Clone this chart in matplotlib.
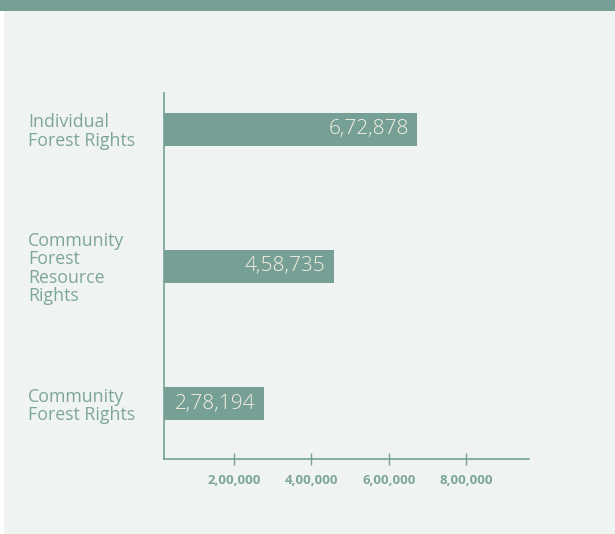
import matplotlib
matplotlib.use("Agg")
import matplotlib.pyplot as plt
from matplotlib.patches import Rectangle

# Forest rights titles distributed, by category (bottom to top)
categories = ["Community\nForest Rights",
              "Community\nForest\nResource\nRights",
              "Individual\nForest Rights"]
titles = [278194, 458735, 672878]
x_ticks = [200000, 400000, 600000, 800000]

TEAL = "#76a096"
LABEL = "#7ea59a"
BG = "#eff4f2"
CREAM = "#f4eedf"


def indian_format(n):
    """Group digits the Indian way: 6,72,878 / 2,00,000."""
    s = str(int(n))
    if len(s) <= 3:
        return s
    head, tail = s[:-3], s[-3:]
    groups = []
    while len(head) > 2:
        groups.insert(0, head[-2:])
        head = head[:-2]
    if head:
        groups.insert(0, head)
    return ",".join(groups) + "," + tail


plt.rcParams["font.family"] = ["Open Sans", "DejaVu Sans"]

fig = plt.figure(figsize=(6.15, 5.34), dpi=100, facecolor="white")
fig.patches.append(Rectangle((4 / 615, 0), 1, 1, transform=fig.transFigure,
                             facecolor=BG, edgecolor="none", zorder=-2))
fig.patches.append(Rectangle((0, 1 - 11 / 534), 1, 11 / 534,
                             transform=fig.transFigure,
                             facecolor=TEAL, edgecolor="none", zorder=-1))

ax = fig.add_axes([164 / 615, 75 / 534, 365 / 615, 366 / 534])
ax.set_facecolor("none")

pos = list(range(len(categories)))
ax.barh(pos, titles, height=0.24, left=0, color=TEAL)

for y, v in zip(pos, titles):
    ax.annotate(indian_format(v), xy=(v, y), xytext=(-6, 0),
                textcoords="offset points", ha="right", va="center",
                fontsize=15, fontweight="light", color=CREAM)

ax.set_xlim(20000, 962000)
ax.set_ylim(-0.405, 2.266)

ax.set_xticks(x_ticks)
ax.set_xticklabels([indian_format(t) for t in x_ticks],
                   fontsize=9.5, fontweight="bold", color=LABEL)
ax.tick_params(axis="x", direction="inout", length=8, width=1,
               color=TEAL, pad=7)

ax.set_yticks(pos)
ax.set_yticklabels(categories, fontsize=12.8, color=LABEL,
                   ha="left", linespacing=1.03)
ax.tick_params(axis="y", length=0, pad=98)

for side in ("top", "right"):
    ax.spines[side].set_visible(False)
for side in ("left", "bottom"):
    ax.spines[side].set_color(TEAL)
    ax.spines[side].set_linewidth(1.2)

fig.savefig("out.png", dpi=100, facecolor=fig.get_facecolor())
